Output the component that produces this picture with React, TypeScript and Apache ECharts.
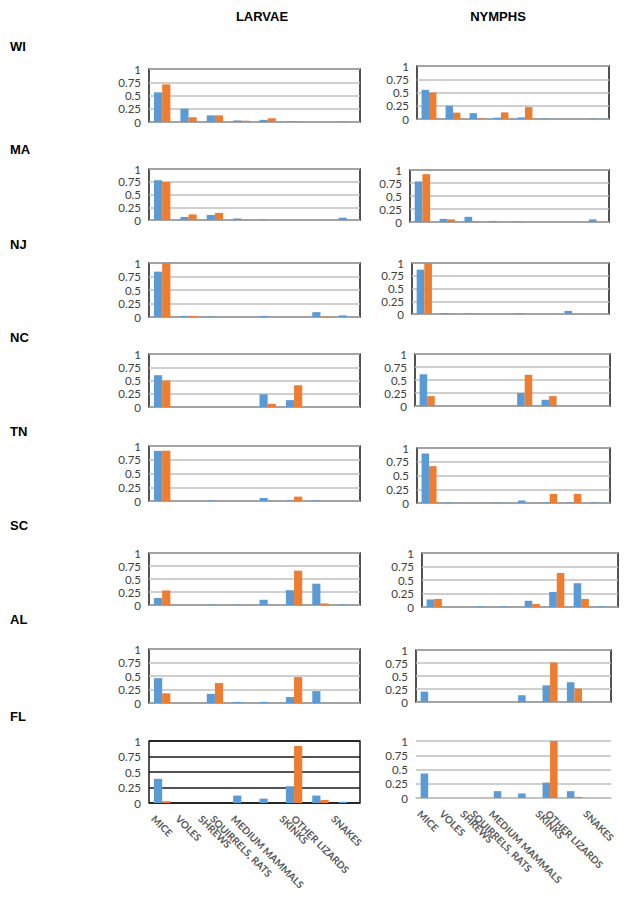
import React, { useEffect, useRef } from 'react';
import * as echarts from 'echarts';

const categories = ['MICE', 'VOLES', 'SHREWS', 'SQUIRRELS, RATS', 'MEDIUM MAMMALS', 'SKINKS', 'OTHER LIZARDS', 'SNAKES'];
const states = ['WI', 'MA', 'NJ', 'NC', 'TN', 'SC', 'AL', 'FL'];
const stageTitles = ['LARVAE', 'NYMPHS'];

// LARVAE
const wiLarvaeBlue = [0.56, 0.25, 0.125, 0.03, 0.04, 0.01, 0, 0.01];
const wiLarvaeOrange = [0.71, 0.09, 0.125, 0.025, 0.07, 0.01, 0, 0];
const maLarvaeBlue = [0.78, 0.06, 0.1, 0.03, 0.01, 0, 0, 0.045];
const maLarvaeOrange = [0.745, 0.11, 0.14, 0.01, 0, 0, 0, 0];
const njLarvaeBlue = [0.84, 0.02, 0.01, 0, 0.02, 0, 0.09, 0.03];
const njLarvaeOrange = [1.0, 0.02, 0, 0, 0, 0, 0.01, 0];
const ncLarvaeBlue = [0.6, 0, 0, 0, 0.24, 0.13, 0, 0];
const ncLarvaeOrange = [0.5, 0, 0, 0, 0.06, 0.41, 0, 0];
const tnLarvaeBlue = [0.91, 0, 0.01, 0, 0.055, 0.01, 0.01, 0];
const tnLarvaeOrange = [0.915, 0, 0, 0, 0, 0.08, 0, 0];
const scLarvaeBlue = [0.135, 0, 0.01, 0.01, 0.1, 0.285, 0.41, 0.01];
const scLarvaeOrange = [0.28, 0, 0, 0, 0, 0.66, 0.03, 0];
const alLarvaeBlue = [0.46, 0, 0.17, 0.02, 0.02, 0.11, 0.22, 0];
const alLarvaeOrange = [0.18, 0, 0.37, 0, 0, 0.48, 0, 0];
const flLarvaeBlue = [0.39, 0, 0, 0.12, 0.07, 0.27, 0.12, 0.02];
const flLarvaeOrange = [0.03, 0, 0, 0, 0, 0.92, 0.05, 0];

// NYMPHS
const wiNymphsBlue = [0.55, 0.25, 0.11, 0.025, 0.03, 0.01, 0, 0.01];
const wiNymphsOrange = [0.5, 0.12, 0.01, 0.125, 0.225, 0, 0, 0];
const maNymphsBlue = [0.78, 0.06, 0.1, 0.02, 0.01, 0, 0, 0.05];
const maNymphsOrange = [0.92, 0.05, 0.02, 0, 0, 0, 0, 0];
const njNymphsBlue = [0.87, 0.02, 0.01, 0, 0.02, 0, 0.06, 0];
const njNymphsOrange = [1.0, 0, 0, 0, 0, 0, 0, 0];
const ncNymphsBlue = [0.61, 0, 0, 0, 0.25, 0.12, 0, 0];
const ncNymphsOrange = [0.19, 0, 0, 0, 0.6, 0.19, 0, 0];
const tnNymphsBlue = [0.9, 0.01, 0, 0.01, 0.045, 0.01, 0.01, 0.01];
const tnNymphsOrange = [0.67, 0, 0, 0, 0, 0.165, 0.165, 0];
const scNymphsBlue = [0.14, 0, 0.01, 0.01, 0.115, 0.28, 0.44, 0.01];
const scNymphsOrange = [0.15, 0, 0, 0, 0.055, 0.63, 0.15, 0];
const alNymphsBlue = [0.2, 0, 0, 0, 0.13, 0.32, 0.38, 0];
const alNymphsOrange = [0, 0, 0, 0, 0, 0.76, 0.26, 0];
const flNymphsBlue = [0.43, 0, 0, 0.12, 0.08, 0.27, 0.12, 0];
const flNymphsOrange = [0, 0, 0, 0, 0, 1.0, 0.02, 0];

const larvaeBlue = [wiLarvaeBlue, maLarvaeBlue, njLarvaeBlue, ncLarvaeBlue, tnLarvaeBlue, scLarvaeBlue, alLarvaeBlue, flLarvaeBlue];
const larvaeOrange = [wiLarvaeOrange, maLarvaeOrange, njLarvaeOrange, ncLarvaeOrange, tnLarvaeOrange, scLarvaeOrange, alLarvaeOrange, flLarvaeOrange];
const nymphsBlue = [wiNymphsBlue, maNymphsBlue, njNymphsBlue, ncNymphsBlue, tnNymphsBlue, scNymphsBlue, alNymphsBlue, flNymphsBlue];
const nymphsOrange = [wiNymphsOrange, maNymphsOrange, njNymphsOrange, ncNymphsOrange, tnNymphsOrange, scNymphsOrange, alNymphsOrange, flNymphsOrange];

// plot boxes [left, top, right, bottom]
const leftBoxes = [
  [149, 69, 360, 122],
  [149, 169, 360, 220],
  [149, 263, 360, 317],
  [149, 354, 360, 407],
  [149, 446, 360, 501],
  [149, 553, 360, 605],
  [149, 649, 360, 703],
  [149, 741, 360, 803],
];
const rightBoxes = [
  [417, 66, 609, 119],
  [410, 170, 609, 222],
  [412, 263, 609, 314],
  [415, 354, 610, 406],
  [417, 448, 610, 503],
  [422, 553, 618, 607],
  [416, 650, 611, 702],
  [416, 741, 611, 798],
];
const rowLabelY = [42, 145, 240, 333, 427, 521, 615, 712];

const BLUE = '#5B9BD5';
const ORANGE = '#ED7D31';
const CAT_FONT = 'bold 10px Lato';

function measure(text: string): number {
  const c = document.createElement('canvas').getContext('2d');
  if (!c) return text.length * 6;
  c.font = CAT_FONT;
  return c.measureText(text).width;
}

export default function App() {
  const ref = useRef<HTMLDivElement>(null);
  useEffect(() => {
    if (!ref.current) return;
    const chart = echarts.init(ref.current, undefined, { renderer: 'svg' });
    const rich: Record<string, any> = {};
    categories.forEach((c, i) => {
      const w = measure(c);
      rich['c' + i] = {
        fontSize: 10, fontWeight: 'bold', color: '#595959', fontFamily: 'Lato',
        padding: [w / 2, 0, 0, w / 2],
      };
    });
    const grid: any[] = [];
    const xAxis: any[] = [];
    const yAxis: any[] = [];
    const series: any[] = [];
    const panels: { box: number[]; blue: number[]; orange: number[]; last: boolean; col: number }[] = [];
    for (let i = 0; i < 8; i++) {
      panels.push({ box: leftBoxes[i], blue: larvaeBlue[i], orange: larvaeOrange[i], last: i === 7, col: 0 });
      panels.push({ box: rightBoxes[i], blue: nymphsBlue[i], orange: nymphsOrange[i], last: i === 7, col: 1 });
    }
    panels.forEach((p, idx) => {
      const [l, t, r, b] = p.box;
      const flLarvae = p.last && p.col === 0;
      const flNymphs = p.last && p.col === 1;
      grid.push({
        left: l, top: t, width: r - l, height: b - t,
        show: !flNymphs, borderColor: '#1a1a1a', borderWidth: 1.5, backgroundColor: 'transparent',
      });
      xAxis.push({
        type: 'category', gridIndex: idx, data: categories,
        axisLine: { show: flNymphs, lineStyle: { color: '#bfbfbf', width: 1.5 } }, axisTick: { show: false },
        axisLabel: p.last
          ? {
              show: true, interval: 0, rotate: -45, align: 'center', verticalAlign: 'middle', margin: 14,
              formatter: (v: string) => '{c' + categories.indexOf(v) + '|' + v + '}',
              rich,
            }
          : { show: false },
      });
      yAxis.push({
        type: 'value', gridIndex: idx, min: 0, max: 1, interval: 0.25,
        axisLine: { show: false }, axisTick: { show: false },
        splitLine: { show: true, lineStyle: { color: flLarvae ? '#1a1a1a' : '#bfbfbf', width: 1.5 } },
        axisLabel: { fontSize: 11.5, lineHeight: 12, color: '#404040', fontFamily: 'Lato', margin: 8 },
      });
      series.push({
        type: 'bar', xAxisIndex: idx, yAxisIndex: idx, data: p.blue, name: 'Series 1',
        itemStyle: { color: BLUE }, barGap: '0%', barCategoryGap: '38%',
      });
      series.push({
        type: 'bar', xAxisIndex: idx, yAxisIndex: idx, data: p.orange, name: 'Series 2',
        itemStyle: { color: ORANGE }, barGap: '0%', barCategoryGap: '38%',
      });
    });
    const title = [
      { text: stageTitles[0], left: 257, top: 5, textAlign: 'center', textStyle: { fontSize: 13, fontWeight: 'bold', color: '#000', fontFamily: 'Liberation Sans' } },
      { text: stageTitles[1], left: 493, top: 5, textAlign: 'center', textStyle: { fontSize: 13, fontWeight: 'bold', color: '#000', fontFamily: 'Liberation Sans' } },
      ...states.map((s, i) => ({
        text: s, left: 5, top: rowLabelY[i] - 7,
        textStyle: { fontSize: 13, fontWeight: 'bold', color: '#000', fontFamily: 'Liberation Sans' },
      })),
    ];
    chart.setOption({
      animation: false,
      backgroundColor: '#fff',
      title,
      grid, xAxis, yAxis, series,
    });
    return () => chart.dispose();
  }, []);
  return <div ref={ref} style={{ position: 'absolute', left: 0, top: 0, width: 625, height: 903 }} />;
}
